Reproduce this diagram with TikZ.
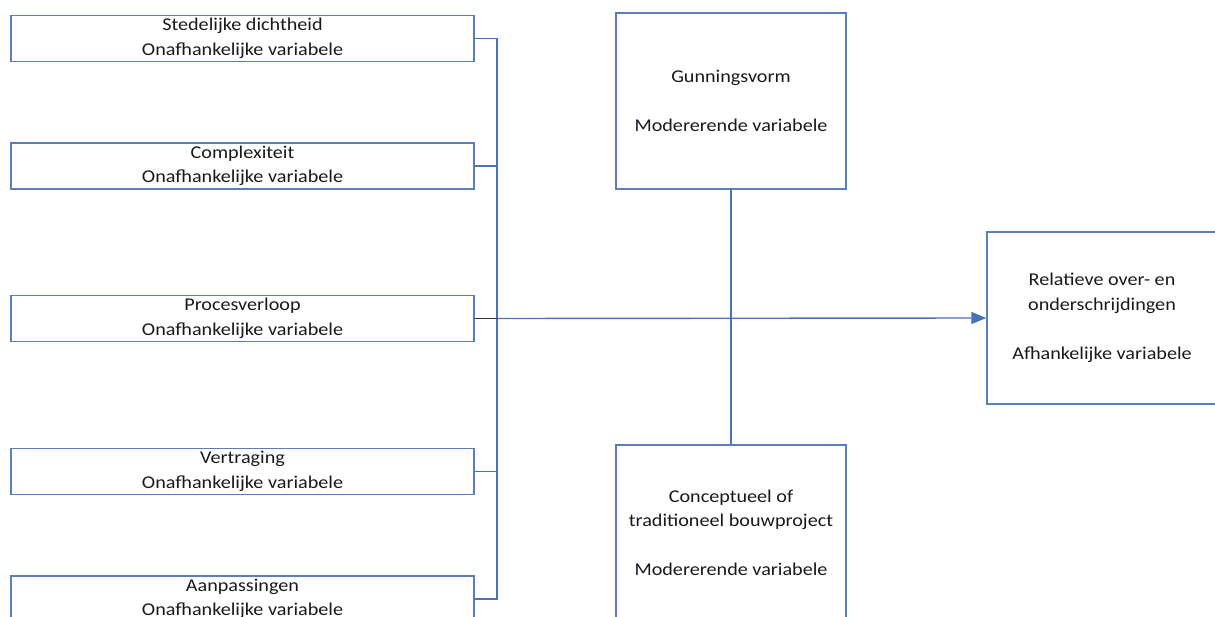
\documentclass[tikz,border=0pt]{standalone}
\usepackage{fontspec}
\setmainfont{Carlito}[FakeStretch=1.12]
\usetikzlibrary{arrows.meta}
\definecolor{boxblue}{HTML}{5B7DB8}
\definecolor{lineblue}{HTML}{4A70B5}
\definecolor{darkline}{HTML}{333333}
\tikzset{
  varbox/.style={draw=boxblue, line width=1.4pt, rectangle, inner sep=0pt, align=center,
    font=\fontsize{18}{24.5}\selectfont, text=black!90},
  leftbox/.style={varbox, minimum width=463pt, minimum height=46pt},
  bigbox/.style={varbox, minimum width=230pt, minimum height=176pt},
  conn/.style={draw=lineblue, line width=1.4pt},
}
\begin{document}
\begin{tikzpicture}[x=1pt,y=-1pt]
\useasboundingbox (0,0) rectangle (1215,617);
\node[leftbox] (b1) at (242.5,38.5) {Stedelijke dichtheid\\Onafhankelijke variabele};
\node[leftbox] (b2) at (242.5,166) {Complexiteit\\Onafhankelijke variabele};
\node[leftbox] (b3) at (242.5,318.5) {Procesverloop\\Onafhankelijke variabele};
\node[leftbox] (b4) at (242.5,471.5) {Vertraging\\Onafhankelijke variabele};
\node[leftbox] (b5) at (242.5,599) {Aanpassingen\\Onafhankelijke variabele};
\node[bigbox] (gun) at (731,101) {Gunningsvorm\\[24.5pt]Modererende variabele};
\node[bigbox] (con) at (731,533) {Conceptueel of\\traditioneel bouwproject\\[24.5pt]Modererende variabele};
\node[bigbox, minimum height=172pt] (rel) at (1102,318) {Relatieve over- en\\onderschrijdingen\\[24.5pt]Afhankelijke variabele};
\coordinate (junc) at (497,318.5);
\draw[conn] (b1.east) -- (b1.east -| junc) -- (b5.east -| junc) -- (b5.east);
\draw[conn] (b2.east) -- (b2.east -| junc);
\draw[conn] (b4.east) -- (b4.east -| junc);
\draw[draw=darkline, line width=1.4pt] (b3.east) -- (junc);
\draw[conn, -{Triangle[length=15pt,width=12pt]}] (junc) -- (rel.west);
\draw[conn] (gun.south) -- (con.north);
\end{tikzpicture}
\end{document}
